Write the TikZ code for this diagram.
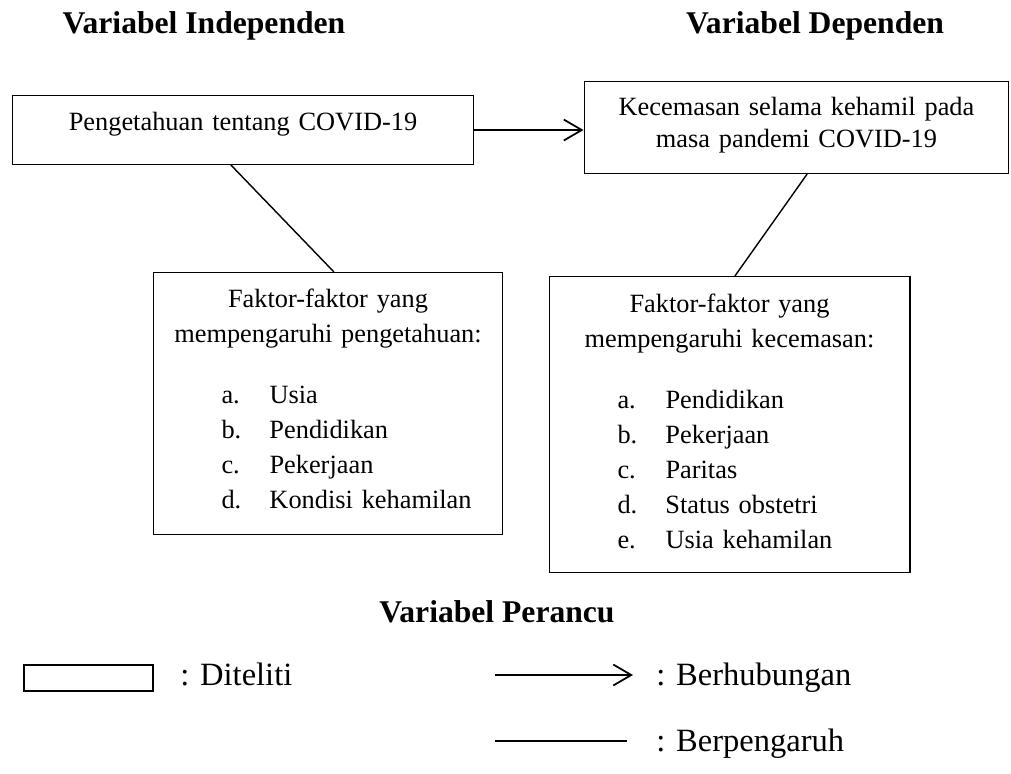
\documentclass[tikz,border=0pt]{standalone}
\usepackage{fontspec}
\setmainfont{Liberation Serif}
\usetikzlibrary{arrows.meta, calc}

\newcommand{\butir}[2]{\makebox[\linewidth][l]{\hspace{1.37cm}\makebox[0.96cm][l]{#1}#2}}

\begin{document}
\begin{tikzpicture}[
    x=0.02cm, y=-0.02cm,
    box/.style={
        rectangle, draw, line width=0.6pt,
        inner xsep=0pt, inner ysep=0pt, anchor=north,
        align=center, font=\fontsize{15}{18.2}\selectfont
    },
    factor/.style={
        box, font=\fontsize{15}{19.9}\selectfont
    },
    head/.style={anchor=base, inner sep=0pt, font=\fontsize{18}{21}\selectfont\bfseries},
    link/.style={line width=0.8pt},
    hub/.style={line width=1pt, -{Straight Barb[length=0.36cm, width=0.42cm]}},
    legbox/.style={
        rectangle, draw, line width=0.6pt, inner sep=0pt,
        minimum width=2.58cm, minimum height=0.52cm
    },
    legtext/.style={anchor=base west, inner sep=0pt, font=\fontsize{18.5}{22}\selectfont}
]
\useasboundingbox (0,0) rectangle (1011,774);

\node[head] (indep)   at (204,33)  {Variabel Independen};
\node[head] (dep)     at (815,33)  {Variabel Dependen};
\node[head] (perancu) at (497,622) {Variabel Perancu};

\node[box, text width=9.24cm, text height=0.7cm, text depth=0.68cm] (pengetahuan) at (243,95)
    {Pengetahuan tentang COVID-19};
\node[box, text width=8.5cm, text height=0.68cm, text depth=1.16cm] (kecemasan) at (796.5,81)
    {Kecemasan selama kehamil pada\\ masa pandemi COVID-19};

\node[factor, text width=7cm, text height=0.7cm, text depth=4.54cm] (fpengetahuan) at (328,272)
    {Faktor-faktor yang\\ mempengaruhi pengetahuan:\\[0.52cm]
     \butir{a.}{Usia}\\ \butir{b.}{Pendidikan}\\ \butir{c.}{Pekerjaan}\\ \butir{d.}{Kondisi kehamilan}};
\node[factor, text width=7.22cm, text height=0.72cm, text depth=5.2cm] (fkecemasan) at (729.5,276)
    {Faktor-faktor yang\\ mempengaruhi kecemasan:\\[0.52cm]
     \butir{a.}{Pendidikan}\\ \butir{b.}{Pekerjaan}\\ \butir{c.}{Paritas}\\ \butir{d.}{Status obstetri}\\ \butir{e.}{Usia kehamilan}};

\draw[hub] (pengetahuan.east) -- (pengetahuan.east -| kecemasan.west);
\draw[link] ($(pengetahuan.south west)!0.474!(pengetahuan.south east)$) -- ($(fpengetahuan.north west)!0.517!(fpengetahuan.north east)$);
\draw[link] ($(kecemasan.south west)!0.525!(kecemasan.south east)$) -- ($(fkecemasan.north west)!0.515!(fkecemasan.north east)$);

\node[legbox] (legditeliti) at (88.5,678) {};
\node[legtext] (ketditeliti) at (180,685) {: Diteliti};
\coordinate (hubawal) at (495,675);
\coordinate (hubakhir) at (633,675);
\draw[hub] (hubawal) -- (hubakhir);
\node[legtext] (kethub) at (656,685) {: Berhubungan};
\coordinate (pengawal) at (495,741);
\coordinate (pengakhir) at (627,741);
\draw[link] (pengawal) -- (pengakhir);
\node[legtext] (ketpeng) at (656,751) {: Berpengaruh};

\end{tikzpicture}
\end{document}
